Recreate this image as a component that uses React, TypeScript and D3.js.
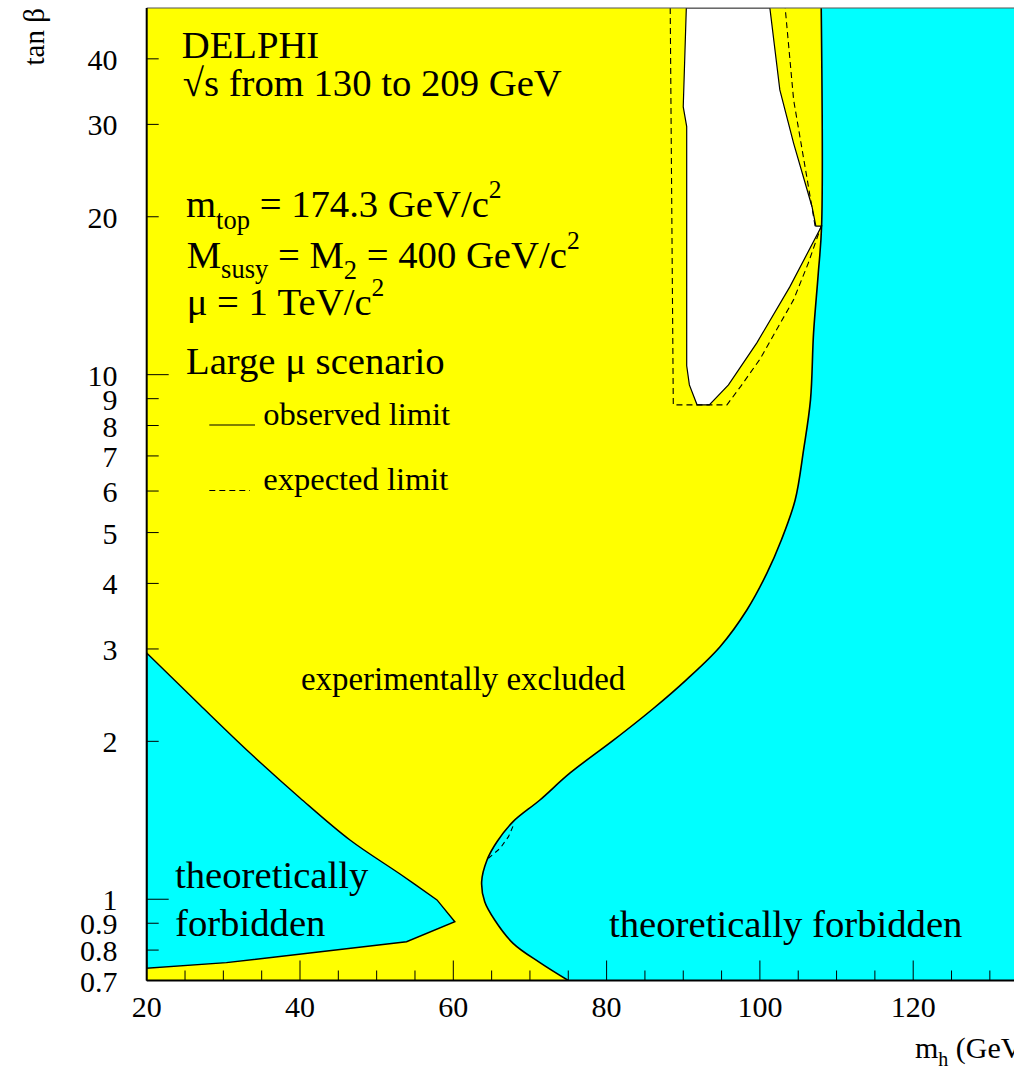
import React from "react";
import * as d3 from "d3";

// ---- data (m_h in GeV, tan beta) ----
const leftForbiddenUpper: [number, number][] = [
  [20, 2.948], [26.95, 2.346], [33.48, 1.9], [40.0, 1.56], [46.52, 1.297],
  [53.05, 1.117], [57.87, 0.997],
];
const leftForbiddenLower: [number, number][] = [
  [60.2, 0.906], [53.9, 0.83], [30.4, 0.757], [20, 0.739],
];

const rightBoundary: [number, number][] = [
  [108.0, 50], [108.05, 19.2], [107.6, 15.5], [107.0, 12.0], [106.6, 8.95], [105.7, 7.19],
  [104.6, 5.77], [102.8, 4.84], [100.9, 4.18], [98.3, 3.56], [94.8, 3.03], [90.4, 2.62],
  [86.1, 2.31], [80.9, 2.01], [75.2, 1.739], [71.3, 1.546], [67.8, 1.406], [65.7, 1.287],
  [64.4, 1.188], [63.7, 1.08], [64.1, 0.989], [65.4, 0.913], [67.8, 0.824], [71.3, 0.757],
  [75.0, 0.7],
];

const holeObserved: [number, number][] = [
  [90.4, 50], [90.0, 32.4], [90.45, 29.7], [90.45, 10.4], [90.8, 9.56], [91.8, 8.76],
  [93.4, 8.76], [95.9, 9.56], [99.6, 11.5], [103.9, 14.7], [108.05, 19.2], [107.3, 19.2],
  [106.8, 20.9], [104.4, 27.6], [102.6, 34.9], [101.3, 50],
];

const expectedHoleLeft: [number, number][] = [
  [88.3, 50], [88.7, 8.76], [95.7, 8.76], [97.5, 9.5], [100.0, 10.7], [104.4, 13.9],
  [106.3, 16.3], [108.0, 19.2],
];

const expectedHoleRight: [number, number][] = [
  [107.2, 19.2], [106.1, 23.9], [104.4, 33.4], [103.3, 50],
];

const expectedBulge: [number, number][] = [
  [64.57, 1.197], [66.1, 1.25], [67.2, 1.316], [67.9, 1.39],
];

const xMajorTicks = [20, 40, 60, 80, 100, 120, 140];
const xMinorTicks = d3.range(20, 141, 5);
const yTickValues = [0.7, 0.8, 0.9, 1, 2, 3, 4, 5, 6, 7, 8, 9, 10, 20, 30, 40];
const yMajorTicks = [1, 10];

const W = 1014;
const H = 1069;
const left = 146.7;
const top = 8;
const bottom = 980.5;

const x = d3.scaleLinear().domain([20, 140]).range([left, left + 120 * 7.665]);
const y = d3.scaleLog().domain([0.7, 50]).range([bottom, top]);

const line = d3
  .line<[number, number]>()
  .x((d) => x(d[0]))
  .y((d) => y(d[1]));
const smooth = d3
  .line<[number, number]>()
  .x((d) => x(d[0]))
  .y((d) => y(d[1]))
  .curve(d3.curveCatmullRom.alpha(0.5));

const FONT = "'Liberation Serif', 'Times New Roman', Times, serif";
const YELLOW = "#ffff00";
const CYAN = "#00ffff";
const BIG = 38.7;

export default function App() {
  const xr = x(140);
  const leftPath =
    smooth(leftForbiddenUpper)! +
    leftForbiddenLower.map((d) => `L${x(d[0])},${y(d[1])}`).join("") +
    "Z";
  const rightCurve = smooth(rightBoundary)!;
  const rightPath = rightCurve + `L${x(140)},${y(0.7)}L${x(140)},${y(50)}Z`;
  return (
    <svg
      width={W}
      height={H}
      style={{ position: "absolute", left: 0, top: 0, background: "#fff" }}
      fontFamily={FONT}
    >
      <defs>
        <clipPath id="plot">
          <rect x={left} y={top} width={xr - left} height={bottom - top} />
        </clipPath>
      </defs>
      <g clipPath="url(#plot)">
        <rect x={left} y={top} width={xr - left} height={bottom - top} fill={YELLOW} />
        <path d={leftPath} fill={CYAN} stroke="#000" strokeWidth={1.4} />
        <path d={rightPath} fill={CYAN} stroke="none" />
        <path d={rightCurve} fill="none" stroke="#000" strokeWidth={1.6} />
        <path d={line(holeObserved)! + "Z"} fill="#fff" stroke="#000" strokeWidth={1.2} />
        <path d={line(expectedHoleLeft)!} fill="none" stroke="#000" strokeWidth={1.1} strokeDasharray="6,4" />
        <path d={line(expectedHoleRight)!} fill="none" stroke="#000" strokeWidth={1.1} strokeDasharray="6,4" />
        <path d={line(expectedBulge)!} fill="none" stroke="#000" strokeWidth={1.1} strokeDasharray="5,4" />
      </g>

      {/* ticks */}
      {xMinorTicks.map((v) => {
        const major = xMajorTicks.includes(v);
        return (
          <line key={"xt" + v} x1={x(v)} x2={x(v)} y1={bottom} y2={bottom - (major ? 20 : 10)} stroke="#000" strokeWidth={1} />
        );
      })}
      {yTickValues.map((v) => {
        const major = yMajorTicks.includes(v);
        return (
          <line key={"yt" + v} x1={left} x2={left + (major ? 22 : 12)} y1={y(v)} y2={y(v)} stroke="#000" strokeWidth={1} />
        );
      })}

      {/* frame */}
      <line x1={left} x2={xr} y1={top} y2={top} stroke="#555" strokeWidth={1.2} />
      <line x1={left} x2={left} y1={top} y2={bottom} stroke="#000" strokeWidth={2} />
      <line x1={left} x2={xr} y1={bottom} y2={bottom} stroke="#000" strokeWidth={2} />

      {/* tick labels */}
      {xMajorTicks.map((v) => (
        <text key={"xl" + v} x={x(v)} y={1016.7} fontSize={30} textAnchor="middle">
          {v}
        </text>
      ))}
      {yTickValues.map((v) => (
        <text key={"yl" + v} x={117.5} y={y(v) + 11} fontSize={30} textAnchor="end">
          {v}
        </text>
      ))}

      {/* axis titles */}
      <text x={915} y={1058} fontSize={30}>
        m<tspan dy={8} fontSize={20}>h</tspan>
        <tspan dy={-8}> (GeV/c</tspan>
        <tspan dy={-12} fontSize={20}>2</tspan>
        <tspan dy={12}>)</tspan>
      </text>
      <text transform="translate(44,8) rotate(-90)" fontSize={29} textAnchor="end">
        tan β
      </text>

      {/* annotations */}
      <text x={181.7} y={58.3} fontSize={BIG}>DELPHI</text>
      <text x={182.7} y={96} fontSize={BIG}>√s from 130 to 209 GeV</text>
      <text x={186} y={216.7} fontSize={BIG}>
        m<tspan dy={12} fontSize={26.5}>top</tspan>
        <tspan dy={-12}> = 174.3 GeV/c</tspan>
        <tspan dy={-19} fontSize={25.5}>2</tspan>
      </text>
      <text x={186.7} y={268.3} fontSize={BIG}>
        M<tspan dy={10} fontSize={26.5}>susy</tspan>
        <tspan dy={-10}> = M</tspan>
        <tspan dy={11} fontSize={26.5}>2</tspan>
        <tspan dy={-11}> = 400 GeV/c</tspan>
        <tspan dy={-19} fontSize={25.5}>2</tspan>
      </text>
      <text x={186.7} y={315} fontSize={BIG}>
        μ = 1 TeV/c<tspan dy={-19} fontSize={25.5}>2</tspan>
      </text>
      <text x={186} y={374} fontSize={BIG}>Large μ scenario</text>
      <line x1={209.3} x2={255} y1={425} y2={425} stroke="#000" strokeWidth={1.1} />
      <text x={263.3} y={425} fontSize={32.5}>observed limit</text>
      <line x1={209.3} x2={250} y1={490.5} y2={490.5} stroke="#000" strokeWidth={1.1} strokeDasharray="6,4" />
      <text x={263.3} y={490} fontSize={32.5}>expected limit</text>

      <text x={301} y={690} fontSize={32.9}>experimentally excluded</text>
      <text x={175} y={888.3} fontSize={BIG}>theoretically</text>
      <text x={175} y={936} fontSize={BIG}>forbidden</text>
      <text x={609} y={937} fontSize={BIG}>theoretically forbidden</text>
    </svg>
  );
}
